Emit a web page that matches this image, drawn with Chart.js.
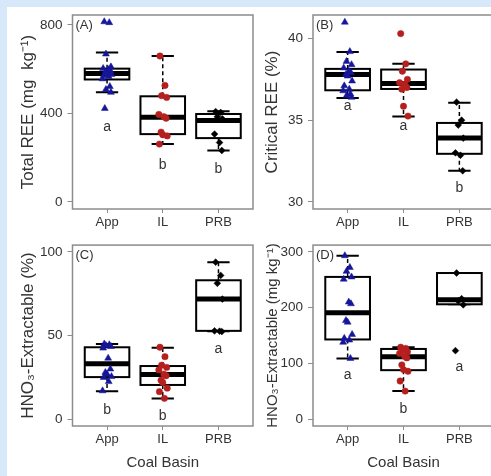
<!DOCTYPE html>
<html>
<head>
<meta charset="utf-8">
<script src="https://cdn.jsdelivr.net/npm/chart.js@4"></script>
<style>
html, body { margin: 0; padding: 0; }
body { width: 491px; height: 476px; position: relative; background: #fff; overflow: hidden; }
.edge-l { position: absolute; left: 0; top: 0; width: 7px; height: 476px; background: #d7e8fa; }
.edge-t { position: absolute; left: 0; top: 0; width: 491px; height: 7px; background: #d7e8fa; }
canvas { position: absolute; }
</style>
</head>
<body>
<div class="edge-l"></div>
<div class="edge-t"></div>
<canvas id="panelA" style="left:0;top:0" width="258" height="232"></canvas>
<canvas id="panelB" style="left:245px;top:0" width="255" height="232"></canvas>
<canvas id="panelC" style="left:0;top:232px" width="258" height="244"></canvas>
<canvas id="panelD" style="left:245px;top:232px" width="255" height="244"></canvas>
<script>
const basins = ['App', 'IL', 'PRB'];

// (A) total REE, mg/kg
const reeApp = [814, 810, 668, 610, 603, 598, 592, 586, 580, 576, 571, 566, 556, 521, 508, 495, 422];
const reeIL = [659, 526, 480, 472, 395, 385, 378, 315, 303, 298, 261];
const reePRB = [408, 404, 385, 375, 306, 268, 232];
// whisker low, q1, median, q3, whisker high
const reeBox = [[495, 553, 580, 602, 675], [261, 306, 382, 477, 659], [232, 288, 368, 397, 409]];
const reeLetters = ['a', 'b', 'b'];
const reeLetterY = [336, 167, 147];
const reeTicks = [0, 400, 800];

// (B) critical REE, %
const critApp = [41.0, 39.2, 38.6, 38.4, 38.2, 38.0, 37.9, 37.8, 37.7, 37.4, 37.1, 36.9, 36.8, 36.6, 36.5, 36.4];
const critIL = [40.3, 38.45, 38.0, 37.5, 37.3, 37.2, 37.0, 36.9, 35.85, 35.25];
const critPRB = [36.1, 35.0, 34.7, 33.9, 33.0, 32.85, 31.9];
const critBox = [[36.36, 36.83, 37.79, 38.14, 39.18], [35.23, 36.91, 37.24, 38.1, 38.45], [31.9, 32.94, 33.91, 34.83, 36.06]];
const critLetters = ['a', 'a', 'b'];
const critLetterY = [35.85, 34.62, 30.84];
const critTicks = [30, 35, 40];

// (C) HNO3-extractable, %
const pctApp = [45, 44.5, 44, 43.5, 42.5, 36.5, 30, 28, 27, 25.5, 25, 22.5, 17];
const pctIL = [43, 37.4, 32.3, 31, 29.5, 27, 26, 23.3, 22, 18.6, 16.5, 12.5];
const pctPRB = [93.8, 85.9, 81.2, 71.8, 52.8, 52.6, 52.4];
const pctBox = [[16.7, 25.2, 33.1, 43.0, 44.9], [12.4, 20.5, 26.7, 31.8, 42.7], [52.6, 52.8, 71.8, 83.0, 93.8]];
const pctLetters = ['b', 'b', 'a'];
const pctLetterY = [5.5, 1.7, 42.1];
const pctTicks = [0, 50, 100];

// (D) HNO3-extractable, mg/kg
const mgApp = [293, 272, 265, 255, 251, 210, 207, 177, 174, 152, 145, 142, 138, 109];
const mgIL = [129, 127, 124, 121, 118, 113, 110, 97.5, 89, 86, 68.5, 50.5];
const mgPRB = [262, 216, 212, 205, 123];
const mgBox = [[109, 143, 191, 255, 293], [50.5, 88, 112, 126, 129], [206, 206, 214, 262, 262]];
const mgLetters = ['a', 'b', 'a'];
const mgLetterY = [79.6, 19, 92.6];
const mgTicks = [0, 100, 200, 300];

// horizontal scatter of the points around each category
const jitter = [-0.05, 0.04, -0.02, 0.07, -0.07, 0.02, 0.06, -0.03, 0.0, 0.08, -0.06, 0.03, -0.08, 0.05, -0.02, 0.07, -0.04];

const FONT = "'Liberation Sans', Arial, sans-serif";
const TXT = '#333';

const boxPlugin = {
  id: 'boxes',
  beforeDatasetsDraw(chart, args, opts) {
    const {ctx, scales: {x, y}} = chart;
    ctx.save();
    opts.stats.forEach((s, i) => {
      const xl = x.getPixelForValue(i + 1 - 0.4), xr = x.getPixelForValue(i + 1 + 0.4);
      const xc = x.getPixelForValue(i + 1);
      const cw = (xr - xl) / 4;
      const [lo, q1, med, q3, hi] = s.map(v => y.getPixelForValue(v));
      ctx.strokeStyle = '#000';
      // whiskers
      ctx.lineWidth = 1.5;
      ctx.setLineDash([4, 3]);
      ctx.beginPath();
      ctx.moveTo(xc, q3); ctx.lineTo(xc, hi);
      ctx.moveTo(xc, q1); ctx.lineTo(xc, lo);
      ctx.stroke();
      ctx.setLineDash([]);
      ctx.lineWidth = 2;
      ctx.beginPath();
      ctx.moveTo(xc - cw, hi); ctx.lineTo(xc + cw, hi);
      ctx.moveTo(xc - cw, lo); ctx.lineTo(xc + cw, lo);
      ctx.stroke();
      // box
      ctx.fillStyle = '#fff';
      ctx.fillRect(xl, q3, xr - xl, q1 - q3);
      ctx.strokeRect(xl, q3, xr - xl, q1 - q3);
      ctx.lineWidth = 5;
      ctx.beginPath();
      ctx.moveTo(xl, med); ctx.lineTo(xr, med);
      ctx.stroke();
    });
    ctx.restore();
  },
  afterDraw(chart, args, opts) {
    const {ctx, chartArea: a, scales: {x, y}} = chart;
    ctx.save();
    ctx.strokeStyle = '#8c8c8c';
    ctx.lineWidth = 1.5;
    ctx.strokeRect(a.left, a.top, a.right - a.left, a.bottom - a.top);
    ctx.fillStyle = TXT;
    ctx.font = '14px ' + FONT;
    ctx.textAlign = 'center';
    ctx.textBaseline = 'middle';
    opts.letters.forEach((l, i) => {
      ctx.fillText(l, x.getPixelForValue(i + 1), y.getPixelForValue(opts.letterY[i]));
    });
    ctx.font = '13px ' + FONT;
    ctx.textAlign = 'left';
    ctx.fillText(opts.tag, a.left + 3, a.top + 10);
    ctx.restore();
  }
};

function points(values, cat) {
  return values.map((v, i) => ({x: cat + jitter[i % jitter.length], y: v}));
}

function makePanel(id, p) {
  const datasets = [
    {data: points(p.app, 1), pointStyle: 'triangle', pointRadius: 4, backgroundColor: '#16169a', borderColor: '#16169a', borderWidth: 0.5},
    {data: points(p.il, 2), pointStyle: 'circle', pointRadius: 3.2, backgroundColor: '#b5201f', borderColor: '#b5201f', borderWidth: 0.5},
    {data: points(p.prb, 3), pointStyle: 'rectRot', pointRadius: 3.4, backgroundColor: '#000', borderColor: '#000', borderWidth: 0.5}
  ];
  new Chart(document.getElementById(id), {
    type: 'scatter',
    data: {datasets},
    plugins: [boxPlugin],
    options: {
      responsive: false,
      animation: false,
      layout: {padding: p.pad},
      plugins: {
        legend: {display: false},
        tooltip: {enabled: false},
        boxes: {stats: p.box, letters: p.letters, letterY: p.letterY, tag: p.tag}
      },
      scales: {
        x: {
          type: 'linear', min: 0.38, max: 3.62,
          afterBuildTicks: s => { s.ticks = [1, 2, 3].map(v => ({value: v})); },
          afterFit: s => { s.height = p.xh; },
          ticks: {callback: v => basins[v - 1], font: {family: FONT, size: 13}, color: TXT, padding: 2, maxRotation: 0},
          grid: {drawOnChartArea: false, tickLength: 4, color: '#8c8c8c'},
          border: {display: false},
          title: {display: !!p.xTitle, text: p.xTitle, font: {family: FONT, size: 15}, color: TXT, padding: {top: 0, bottom: 4}}
        },
        y: {
          min: p.min, max: p.max,
          afterBuildTicks: s => { s.ticks = p.ticks.map(v => ({value: v})); },
          afterFit: s => { s.width = p.yw; },
          ticks: {font: {family: FONT, size: 13.5}, color: TXT, padding: 5},
          grid: {drawOnChartArea: false, tickLength: 5, color: '#8c8c8c'},
          border: {display: false},
          title: {display: true, text: p.yTitle, font: {family: FONT, size: p.ts}, color: TXT, padding: {top: p.tp, bottom: 0}}
        }
      }
    }
  });
}

makePanel('panelA', {app: reeApp, il: reeIL, prb: reePRB, box: reeBox, letters: reeLetters, letterY: reeLetterY,
  ticks: reeTicks, min: -32.5, max: 844.5, tag: '(A)', yTitle: 'Total REE (mg  kg\u207B\u00B9)',
  pad: {left: 0, top: 15, right: 5, bottom: 0}, yw: 72.5, xh: 23, ts: 17, tp: 18});
makePanel('panelB', {app: critApp, il: critIL, prb: critPRB, box: critBox, letters: critLetters, letterY: critLetterY,
  ticks: critTicks, min: 29.56, max: 41.44, tag: '(B)', yTitle: 'Critical REE (%)',
  pad: {left: 0, top: 15, right: 6, bottom: 0}, yw: 68, xh: 23, ts: 17, tp: 17});
makePanel('panelC', {app: pctApp, il: pctIL, prb: pctPRB, box: pctBox, letters: pctLetters, letterY: pctLetterY,
  ticks: pctTicks, min: -4, max: 104, tag: '(C)', yTitle: 'HNO\u2083-Extractable (%)', xTitle: 'Coal Basin',
  pad: {left: 0, top: 1, right: 5, bottom: 0}, yw: 72.5, xh: 50, ts: 17, tp: 18});
makePanel('panelD', {app: mgApp, il: mgIL, prb: mgPRB, box: mgBox, letters: mgLetters, letterY: mgLetterY,
  ticks: mgTicks, min: -12, max: 312, tag: '(D)', yTitle: 'HNO\u2083-Extractable (mg kg\u207B\u00B9)', xTitle: 'Coal Basin',
  pad: {left: 0, top: 1, right: 6, bottom: 0}, yw: 68, xh: 50, ts: 15, tp: 19});
</script>
</body>
</html>
